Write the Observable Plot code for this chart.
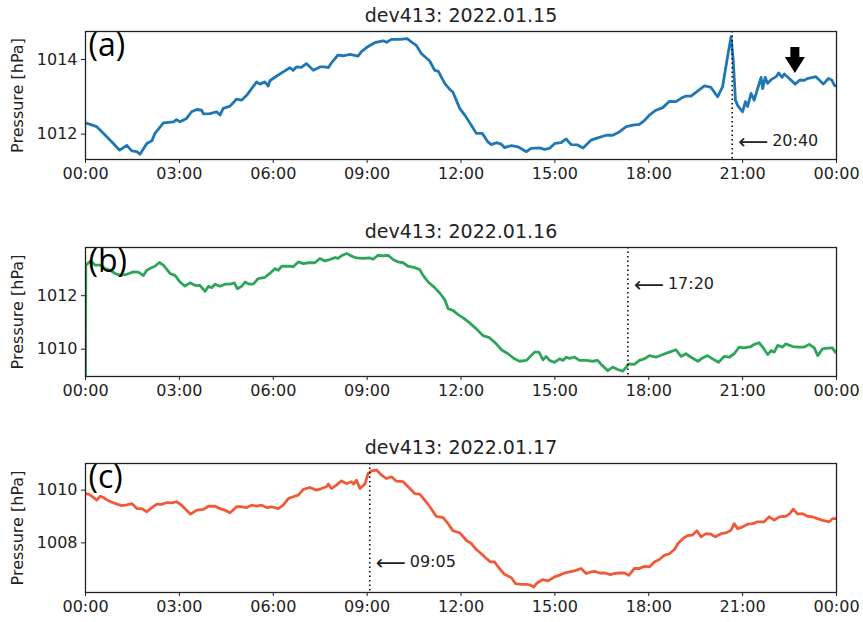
<!DOCTYPE html>
<html>
<head>
<meta charset="utf-8">
<script src="https://cdn.jsdelivr.net/npm/d3@7"></script>
<script src="https://cdn.jsdelivr.net/npm/@observablehq/plot@0.6"></script>
<style>
  html, body { margin: 0; padding: 0; background: white; }
  #chart svg { display: block; }
</style>
</head>
<body>
<div id="chart"></div>
<script>
// ---------- data (hours since 00:00, pressure in hPa) ----------
const xTicks = [0, 3, 6, 9, 12, 15, 18, 21, 24];
const xTickLabels = ["00:00", "03:00", "06:00", "09:00", "12:00", "15:00", "18:00", "21:00", "00:00"];

const titles = ["dev413: 2022.01.15", "dev413: 2022.01.16", "dev413: 2022.01.17"];
const tags = ["(a)", "(b)", "(c)"];
const colors = ["#1f77b4", "#2ea55a", "#f05a38"];

const yTicksA = [1012, 1014];
const yTicksB = [1010, 1012];
const yTicksC = [1008, 1010];

const hoursA = [0.00,0.36,0.68,0.89,1.09,1.32,1.48,1.64,1.74,1.96,2.12,2.22,2.49,2.81,2.91,3.02,3.23,3.39,3.55,3.71,3.77,3.98,4.19,4.30,4.40,4.62,4.83,4.99,5.15,5.31,5.47,5.57,5.73,5.84,5.89,6.10,6.32,6.53,6.64,6.74,6.90,7.06,7.28,7.49,7.65,7.76,7.86,8.07,8.23,8.45,8.71,8.82,8.98,9.24,9.51,9.62,9.78,10.04,10.28,10.41,10.57,10.73,11.00,11.16,11.27,11.48,11.64,11.74,11.96,12.12,12.33,12.49,12.68,12.86,12.97,13.13,13.29,13.39,13.61,13.82,14.09,14.24,14.51,14.67,14.83,15.00,15.20,15.36,15.52,15.73,15.90,16.16,16.37,16.64,16.85,17.06,17.28,17.49,17.70,17.86,18.02,18.23,18.45,18.66,18.87,19.03,19.19,19.35,19.57,19.78,19.99,20.20,20.36,20.50,20.63,20.70,20.77,20.84,20.91,21.00,21.09,21.16,21.27,21.37,21.48,21.59,21.64,21.72,21.80,21.91,22.07,22.15,22.26,22.33,22.49,22.68,22.83,22.97,23.07,23.34,23.45,23.58,23.74,23.85,23.93,24.00];
const pressureA = [1012.30,1012.20,1011.93,1011.75,1011.57,1011.70,1011.55,1011.53,1011.46,1011.75,1011.82,1012.02,1012.30,1012.33,1012.39,1012.33,1012.42,1012.60,1012.66,1012.64,1012.54,1012.55,1012.60,1012.51,1012.69,1012.75,1012.94,1012.91,1013.04,1013.22,1013.40,1013.34,1013.40,1013.29,1013.43,1013.55,1013.67,1013.78,1013.71,1013.80,1013.79,1013.89,1013.71,1013.80,1013.80,1013.78,1013.91,1014.12,1014.10,1014.14,1014.09,1014.21,1014.32,1014.45,1014.50,1014.46,1014.54,1014.54,1014.56,1014.47,1014.38,1014.16,1013.96,1013.71,1013.69,1013.36,1013.20,1013.13,1012.69,1012.51,1012.24,1012.02,1012.02,1011.79,1011.72,1011.77,1011.73,1011.64,1011.69,1011.66,1011.53,1011.62,1011.63,1011.59,1011.62,1011.75,1011.77,1011.87,1011.72,1011.71,1011.63,1011.84,1011.90,1011.97,1011.97,1012.06,1012.20,1012.24,1012.26,1012.36,1012.51,1012.64,1012.71,1012.88,1012.87,1012.96,1013.02,1013.02,1013.16,1013.29,1013.25,1013.00,1013.27,1013.98,1014.61,1013.98,1012.91,1012.77,1012.69,1012.60,1012.87,1012.74,1013.09,1012.91,1013.22,1013.52,1013.22,1013.52,1013.36,1013.46,1013.54,1013.64,1013.52,1013.61,1013.49,1013.34,1013.45,1013.44,1013.49,1013.54,1013.45,1013.34,1013.49,1013.45,1013.31,1013.28];

const hoursB = [0.00,0.01,0.17,0.31,0.47,0.63,0.79,0.95,1.11,1.32,1.53,1.69,1.85,1.96,2.12,2.22,2.36,2.49,2.70,2.86,3.02,3.18,3.34,3.50,3.66,3.82,3.93,4.03,4.14,4.30,4.46,4.62,4.76,4.85,4.99,5.10,5.23,5.36,5.52,5.73,5.89,6.05,6.16,6.27,6.53,6.64,6.80,6.96,7.12,7.33,7.49,7.65,7.81,7.97,8.07,8.18,8.34,8.50,8.66,8.87,9.09,9.19,9.35,9.51,9.67,9.83,9.99,10.15,10.31,10.52,10.68,10.79,10.95,11.16,11.32,11.48,11.59,11.74,11.90,12.06,12.28,12.49,12.70,12.91,13.13,13.29,13.50,13.71,13.87,14.09,14.24,14.35,14.49,14.62,14.72,14.83,14.99,15.15,15.26,15.36,15.47,15.63,15.79,16.00,16.21,16.37,16.48,16.69,16.85,17.01,17.17,17.28,17.35,17.54,17.70,17.86,18.02,18.23,18.45,18.66,18.87,19.03,19.19,19.35,19.57,19.73,19.88,20.04,20.23,20.41,20.57,20.73,20.89,21.05,21.27,21.37,21.53,21.64,21.80,21.91,22.01,22.12,22.28,22.38,22.60,22.81,22.97,23.13,23.29,23.40,23.55,23.71,23.87,23.96,24.00];
const pressureB = [1008.90,1013.14,1013.30,1013.14,1013.14,1013.01,1012.95,1012.83,1012.76,1012.80,1012.89,1012.88,1012.75,1012.95,1013.05,1013.10,1013.24,1013.14,1012.83,1012.76,1012.51,1012.36,1012.48,1012.39,1012.38,1012.16,1012.35,1012.30,1012.43,1012.35,1012.43,1012.43,1012.48,1012.26,1012.35,1012.51,1012.43,1012.43,1012.64,1012.68,1012.83,1013.01,1012.95,1013.10,1013.10,1013.08,1013.26,1013.20,1013.23,1013.23,1013.39,1013.30,1013.35,1013.42,1013.39,1013.49,1013.58,1013.48,1013.41,1013.39,1013.41,1013.36,1013.51,1013.49,1013.51,1013.35,1013.26,1013.23,1013.10,1013.05,1012.98,1012.76,1012.51,1012.30,1012.10,1011.85,1011.51,1011.45,1011.30,1011.18,1010.98,1010.76,1010.51,1010.43,1010.20,1009.98,1009.83,1009.64,1009.55,1009.58,1009.76,1009.89,1009.89,1009.60,1009.73,1009.58,1009.51,1009.64,1009.58,1009.70,1009.66,1009.70,1009.58,1009.58,1009.55,1009.58,1009.43,1009.20,1009.33,1009.24,1009.18,1009.33,1009.45,1009.43,1009.58,1009.64,1009.76,1009.70,1009.80,1009.89,1009.98,1009.73,1009.83,1009.70,1009.55,1009.68,1009.76,1009.64,1009.51,1009.73,1009.70,1009.83,1010.08,1010.05,1010.10,1010.18,1010.24,1010.08,1009.80,1009.95,1009.89,1010.14,1010.08,1010.20,1010.10,1010.08,1010.08,1010.18,1010.05,1009.76,1010.01,1010.04,1010.05,1009.89,1009.90];

const hoursC = [0.00,0.10,0.20,0.36,0.47,0.57,0.70,0.89,1.00,1.16,1.32,1.48,1.64,1.80,1.96,2.12,2.28,2.44,2.60,2.76,2.91,3.07,3.23,3.36,3.55,3.77,3.93,4.14,4.30,4.46,4.62,4.83,4.99,5.15,5.31,5.47,5.63,5.79,5.95,6.16,6.32,6.48,6.64,6.80,6.96,7.17,7.38,7.54,7.70,7.76,7.86,8.02,8.18,8.34,8.50,8.57,8.66,8.77,8.93,9.03,9.14,9.30,9.46,9.62,9.78,9.94,10.15,10.31,10.52,10.68,10.84,11.00,11.21,11.43,11.59,11.74,11.96,12.17,12.33,12.49,12.65,12.81,12.94,13.07,13.23,13.39,13.61,13.74,13.93,14.09,14.19,14.32,14.43,14.62,14.78,14.99,15.15,15.31,15.47,15.68,15.84,16.00,16.16,16.27,16.43,16.60,16.77,16.90,17.06,17.23,17.36,17.54,17.70,17.86,18.02,18.18,18.34,18.50,18.66,18.82,18.93,19.09,19.24,19.40,19.54,19.67,19.83,19.99,20.13,20.31,20.47,20.63,20.73,20.84,21.00,21.16,21.32,21.48,21.69,21.85,22.01,22.17,22.38,22.49,22.62,22.76,22.91,23.07,23.23,23.39,23.60,23.77,23.87,24.00];
const pressureC = [1009.87,1009.85,1009.77,1009.62,1009.77,1009.72,1009.62,1009.52,1009.47,1009.41,1009.44,1009.49,1009.30,1009.30,1009.18,1009.34,1009.47,1009.46,1009.53,1009.52,1009.56,1009.43,1009.24,1009.09,1009.24,1009.27,1009.39,1009.39,1009.30,1009.24,1009.14,1009.37,1009.37,1009.34,1009.43,1009.39,1009.43,1009.34,1009.37,1009.30,1009.43,1009.68,1009.75,1009.81,1010.03,1010.10,1010.00,1010.06,1010.13,1010.23,1010.06,1010.19,1010.35,1010.25,1010.32,1010.23,1010.38,1010.06,1010.23,1010.63,1010.73,1010.76,1010.57,1010.44,1010.51,1010.34,1010.32,1010.13,1009.87,1009.85,1009.62,1009.38,1009.01,1008.96,1008.73,1008.46,1008.38,1008.10,1007.97,1007.75,1007.59,1007.41,1007.28,1007.28,1007.03,1006.81,1006.68,1006.46,1006.43,1006.43,1006.41,1006.33,1006.48,1006.61,1006.56,1006.71,1006.78,1006.86,1006.90,1006.96,1007.03,1006.84,1006.90,1006.92,1006.86,1006.86,1006.80,1006.84,1006.86,1006.86,1006.77,1007.03,1007.03,1007.11,1007.09,1007.28,1007.37,1007.53,1007.59,1007.75,1007.97,1008.16,1008.28,1008.30,1008.46,1008.23,1008.35,1008.33,1008.23,1008.35,1008.38,1008.48,1008.73,1008.54,1008.61,1008.71,1008.73,1008.80,1008.80,1008.99,1008.86,1008.99,1009.01,1009.09,1009.28,1009.09,1009.11,1009.01,1008.99,1008.92,1008.84,1008.80,1008.92,1008.92];

// event markers (dotted lines) and their labels
const markerHours = [20 + 40 / 60, 17 + 20 / 60, 9 + 5 / 60];
const markerLabels = ["20:40", "17:20", "09:05"];
const markerLabelY = [1011.81, 1012.43, 1007.27];

// black down-arrow annotation in panel (a)
const arrowHour = [22.67];
const arrowTip = [1013.64];

// ---------- drawing ----------
const FONT = "DejaVu Sans";
const INK = "#222";

// block arrow glyph (points down, anchored at its tip)
const downArrow = {
  draw(ctx) {
    ctx.moveTo(0, 0);
    ctx.lineTo(-10, -16);
    ctx.lineTo(-4.5, -16);
    ctx.lineTo(-4.5, -26);
    ctx.lineTo(4.5, -26);
    ctx.lineTo(4.5, -16);
    ctx.lineTo(10, -16);
    ctx.closePath();
  }
};

function panel(k, hours, pressure, yDomain, yTicks, layout, extra = []) {
  const idx = d3.range(hours.length);
  return Plot.plot({
    width: 863,
    height: layout.height,
    marginLeft: 85,
    marginRight: 27,
    marginTop: layout.top,
    marginBottom: layout.bottom,
    style: {fontFamily: FONT, fontSize: "16px", color: INK, background: "white"},
    x: {domain: [0, 24]},
    y: {domain: yDomain},
    marks: [
      Plot.axisX({
        ticks: xTicks,
        tickFormat: (d) => xTickLabels[xTicks.indexOf(d)],
        tickSize: 4, tickPadding: 4, fontSize: 16, label: null, stroke: INK
      }),
      Plot.axisY({
        ticks: yTicks, tickFormat: (d) => String(d),
        tickSize: 4, tickPadding: 4, fontSize: 16, stroke: INK,
        label: "Pressure [hPa]", labelAnchor: "center", labelOffset: 74, labelArrow: "none"
      }),
      Plot.line(idx, {x: (i) => hours[i], y: (i) => pressure[i], stroke: colors[k], strokeWidth: 2.8, clip: true}),
      Plot.ruleX([markerHours[k]], {stroke: "black", strokeWidth: 1.5, strokeDasharray: "1.5,3"}),
      // long left arrow
      Plot.text([k], {
        x: (i) => markerHours[i], y: (i) => markerLabelY[i],
        text: () => "\u27F5",
        dx: 6, dy: 1, textAnchor: "start", fontSize: 21, fill: INK
      }),
      // time label
      Plot.text([k], {
        x: (i) => markerHours[i], y: (i) => markerLabelY[i],
        text: (i) => markerLabels[i],
        dx: 40, textAnchor: "start", fontSize: 16, fill: INK
      }),
      ...extra,
      Plot.text([tags[k]], {
        frameAnchor: "top-left", dx: 3, dy: 2, lineAnchor: "top", textAnchor: "start",
        fontSize: 32, fontFamily: "Open Sans", fill: "black"
      }),
      Plot.text([titles[k]], {
        frameAnchor: "top", dy: -10, lineAnchor: "bottom", fontSize: 19, fill: INK
      }),
      Plot.frame({stroke: INK, strokeWidth: 1.3})
    ]
  });
}

const chart = document.getElementById("chart");
chart.append(
  panel(0, hoursA, pressureA, [1011.32, 1014.75], yTicksA, {height: 205, top: 31, bottom: 46}, [
    Plot.dot(arrowHour, {x: (d) => d, y: (d, i) => arrowTip[i], symbol: downArrow, fill: "black", stroke: "none", r: 5})
  ]),
  panel(1, hoursB, pressureB, [1008.98, 1013.8], yTicksB, {height: 215, top: 42, bottom: 44}),
  panel(2, hoursC, pressureC, [1006.12, 1011.01], yTicksC, {height: 202, top: 43, bottom: 30})
);
</script>
</body>
</html>
